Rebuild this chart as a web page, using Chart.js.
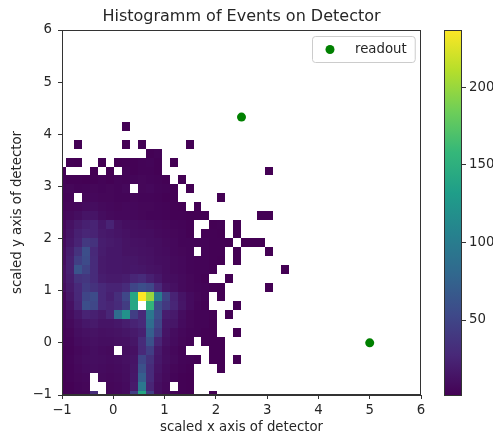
<!DOCTYPE html>
<html>
<head>
<meta charset="utf-8">
<title>Histogramm of Events on Detector</title>
<script src="https://cdn.jsdelivr.net/npm/chart.js@4/dist/chart.umd.min.js"></script>
<style>
  html, body { margin: 0; padding: 0; background: #fff; }
  #wrap { position: relative; width: 493px; height: 437px; overflow: hidden; }
  #histChart { position: absolute; left: 0; top: 0; }
  #barChart { position: absolute; left: 430px; top: 0; }
</style>
</head>
<body>
<div id="wrap">
  <canvas id="histChart" width="493" height="437"></canvas>
  <canvas id="barChart" width="63" height="437"></canvas>
</div>
<script>
const chartTitle = "Histogramm of Events on Detector";
const xLabel = "scaled x axis of detector";
const yLabel = "scaled y axis of detector";
const axisMin = -1, axisMax = 6;

// readout positions
const readoutLabel = "readout";
const readoutX = [2.5, 5];
const readoutY = [4.33, 0];

// 2d histogram bins (data units)
const xBinStart = -1.07, xBinWidth = 0.155;
const yBinStart = -1.09, yBinWidth = 0.172;

// counts per bin, first row is the top one, 29 columns each
const counts = [
  [0,0,0,0,0,0,0,0,2,0,0,0,0,0,0,0,0,0,0,0,0,0,0,0,0,0,0,0,0],
  [0,0,0,0,0,0,0,0,0,0,0,0,0,0,0,0,0,0,0,0,0,0,0,0,0,0,0,0,0],
  [0,0,1,0,0,0,0,0,1,0,2,0,0,0,0,0,1,0,0,0,0,0,0,0,0,0,0,0,0],
  [0,0,0,0,0,0,0,0,0,0,0,2,3,0,0,0,0,0,0,0,0,0,0,0,0,0,0,0,0],
  [0,2,1,0,0,1,0,1,2,2,3,4,2,0,1,0,0,0,0,0,0,0,0,0,0,0,0,0,0],
  [2,0,0,0,1,0,1,0,3,2,3,3,2,0,0,0,0,0,0,0,0,0,0,0,0,0,1,0,0],
  [3,2,2,1,2,3,2,4,3,4,5,4,3,2,0,1,0,0,0,0,0,0,0,0,0,0,0,0,0],
  [4,5,3,4,5,4,5,4,6,0,5,6,4,3,2,0,1,0,0,0,0,0,0,0,0,0,0,0,0],
  [3,4,0,5,6,5,5,4,4,5,4,4,3,2,2,0,0,0,0,0,1,0,0,0,0,0,0,0,0],
  [4,5,6,8,9,7,6,5,6,6,5,5,4,3,2,1,0,1,0,0,0,0,0,0,0,0,0,0,0],
  [5,7,10,14,14,9,7,6,6,6,5,4,4,3,2,2,1,1,1,0,0,0,0,0,0,1,1,0,0],
  [6,12,18,22,24,16,24,13,10,9,8,7,6,5,4,3,2,0,0,1,2,0,1,0,0,0,0,0,0],
  [7,14,22,26,24,18,16,14,12,10,9,9,7,6,5,4,2,0,2,2,1,0,1,0,0,0,0,0,0],
  [8,16,24,40,35,20,18,16,13,12,11,10,9,7,6,4,4,3,3,2,2,1,0,1,1,1,0,0,0],
  [10,20,35,58,28,19,16,16,13,13,12,11,9,8,6,5,4,0,3,2,2,0,1,0,0,0,1,0,0],
  [10,22,45,55,30,18,16,16,15,15,13,12,10,9,7,6,4,3,3,2,1,0,1,0,0,0,0,0,0],
  [12,22,62,48,30,18,16,16,15,16,15,13,12,9,7,6,4,3,3,2,0,0,0,0,0,0,0,0,1],
  [12,20,35,38,30,20,18,18,20,26,30,22,16,10,9,7,5,3,2,0,0,1,0,0,0,0,0,0,0],
  [10,18,28,42,35,28,24,24,30,50,58,52,28,14,11,7,5,4,3,2,1,0,0,0,0,0,1,0,0],
  [5,15,27,50,55,28,22,32,52,140,237,200,100,48,24,14,8,5,3,0,1,0,0,0,0,0,0,0,0],
  [5,12,25,58,52,28,25,30,43,140,0,155,58,40,26,15,8,4,2,0,0,0,1,0,0,0,0,0,0],
  [4,9,16,24,22,18,26,85,120,45,28,95,57,20,18,9,5,3,3,2,0,1,0,0,0,0,0,0,0],
  [4,7,12,16,18,14,14,16,20,24,28,85,50,16,15,8,5,3,3,1,0,0,0,0,0,0,0,0,0],
  [3,5,10,12,13,11,12,13,15,18,22,72,42,14,9,6,4,3,2,1,0,0,1,0,0,0,0,0,0],
  [3,4,8,10,11,10,10,11,12,15,30,60,25,12,8,5,3,0,2,1,1,0,0,0,0,0,0,0,0],
  [2,3,6,8,10,8,7,0,10,12,28,45,18,9,6,3,0,0,0,1,1,0,0,0,0,0,0,0,0],
  [2,4,7,9,10,9,8,9,11,14,50,34,16,10,7,4,3,2,0,1,1,0,1,0,0,0,0,0,0],
  [2,3,6,8,9,8,7,8,10,15,60,30,14,8,5,3,2,0,0,0,1,0,0,0,0,0,0,0,0],
  [1,3,5,6,0,7,6,7,9,16,72,30,12,7,4,2,1,0,0,0,0,0,0,0,0,0,0,0,0],
  [1,2,4,5,0,0,5,6,8,18,95,25,10,6,0,2,1,0,0,0,0,0,0,0,0,0,0,0,0],
  [1,2,3,4,30,0,5,6,8,45,140,45,9,5,3,2,1,0,0,1,0,0,0,0,0,0,0,0,0]
];

// colour scale
const colorMin = 1, colorMax = 237;
const colorTicks = [50, 100, 150, 200];

const FONT = "'DejaVu Sans', sans-serif";
const TEXT = "#262626";
const LINE = "#333";
const tickFont = { family: FONT, size: 13.3 };

const viridis = ["#440154", "#482878", "#3e4989", "#31688e", "#26828e",
                 "#1f9e89", "#35b779", "#6ece58", "#b5de2b", "#fde725"];

function hexRgb(h) {
  return [1, 3, 5].map(k => parseInt(h.slice(k, k + 2), 16));
}

function viridisColor(f) {
  f = Math.min(1, Math.max(0, f));
  const p = f * (viridis.length - 1);
  const k = Math.min(Math.floor(p), viridis.length - 2);
  const t = p - k;
  const a = hexRgb(viridis[k]), b = hexRgb(viridis[k + 1]);
  const c = a.map((v, n) => Math.round(v + (b[n] - v) * t));
  return `rgb(${c[0]},${c[1]},${c[2]})`;
}

const fmtTick = v => (v < 0 ? "\u2212" + Math.abs(v) : String(v));

// === heatmap cells ===
const heatmap = {
  id: "heatmap",
  beforeDatasetsDraw(chart) {
    const { ctx, chartArea: a, scales: { x, y } } = chart;
    const nRows = counts.length;
    ctx.save();
    ctx.beginPath();
    ctx.rect(a.left, a.top, a.right - a.left, a.bottom - a.top);
    ctx.clip();
    counts.forEach((row, r) => {
      const j = nRows - 1 - r;
      const yb = Math.round(y.getPixelForValue(yBinStart + j * yBinWidth));
      const yt = Math.round(y.getPixelForValue(yBinStart + (j + 1) * yBinWidth));
      row.forEach((v, i) => {
        if (!v) return;
        const xl = Math.round(x.getPixelForValue(xBinStart + i * xBinWidth));
        const xr = Math.round(x.getPixelForValue(xBinStart + (i + 1) * xBinWidth));
        ctx.fillStyle = viridisColor((v - colorMin) / (colorMax - colorMin));
        ctx.fillRect(xl, yt, xr - xl, yb - yt);
      });
    });
    ctx.restore();
  }
};

// box around the axes
const frame = {
  id: "frame",
  afterDatasetsDraw(chart) {
    const { ctx, chartArea: a } = chart;
    ctx.save();
    ctx.strokeStyle = LINE;
    ctx.lineWidth = 1;
    ctx.strokeRect(a.left + 0.5, a.top + 0.5, a.right - a.left - 1, a.bottom - a.top - 1);
    ctx.restore();
  }
};

// legend inside the upper right corner
const legendBox = {
  id: "legendBox",
  afterDraw(chart) {
    const { ctx, chartArea: a } = chart;
    const ds = chart.data.datasets[0];
    ctx.save();
    ctx.font = `13.3px ${FONT}`;
    const w = 43 + ctx.measureText(ds.label).width + 8;
    const h = 26;
    const left = Math.round(a.right - 6 - w), top = Math.round(a.top + 6);
    ctx.fillStyle = "rgba(255,255,255,0.8)";
    ctx.strokeStyle = "#cccccc";
    ctx.beginPath();
    ctx.roundRect(left + 0.5, top + 0.5, w, h, 3);
    ctx.fill();
    ctx.stroke();
    ctx.fillStyle = ds.backgroundColor;
    ctx.beginPath();
    ctx.arc(left + 18, top + h / 2 + 0.5, 4.5, 0, Math.PI * 2);
    ctx.fill();
    ctx.fillStyle = TEXT;
    ctx.textBaseline = "middle";
    ctx.fillText(ds.label, left + 43, top + h / 2 + 0.5);
    ctx.restore();
  }
};

new Chart(document.getElementById("histChart"), {
  type: "scatter",
  data: {
    datasets: [{
      label: readoutLabel,
      data: readoutX.map((x, k) => ({ x, y: readoutY[k] })),
      backgroundColor: "green",
      borderColor: "green",
      borderWidth: 0,
      pointRadius: 4.5,
      pointHoverRadius: 4.5
    }]
  },
  options: {
    responsive: false,
    animation: false,
    devicePixelRatio: 1,
    events: [],
    layout: { padding: { left: 0, right: 72, top: 0, bottom: 0 } },
    plugins: {
      legend: { display: false },
      tooltip: { enabled: false },
      title: {
        display: true,
        text: chartTitle,
        fullSize: false,
        color: TEXT,
        font: { family: FONT, size: 16, weight: "normal" },
        padding: { top: 7, bottom: 3.8 }
      }
    },
    scales: {
      x: {
        type: "linear", min: axisMin, max: axisMax,
        ticks: { stepSize: 1, autoSkip: false, maxRotation: 0, font: tickFont, color: TEXT, padding: 4, callback: fmtTick },
        grid: { drawOnChartArea: false, tickLength: 4, color: LINE },
        border: { color: LINE },
        title: { display: true, text: xLabel, color: TEXT, font: tickFont, padding: { top: 0, bottom: 1 } },
        afterFit(s) { s.height = 42; }
      },
      y: {
        type: "linear", min: axisMin, max: axisMax,
        ticks: { stepSize: 1, autoSkip: false, font: tickFont, color: TEXT, padding: 6, callback: fmtTick },
        grid: { drawOnChartArea: false, tickLength: 4, color: LINE },
        border: { color: LINE },
        title: { display: true, text: yLabel, color: TEXT, font: tickFont, padding: { top: 10, bottom: 0 } },
        afterFit(s) { s.width = 62; }
      }
    }
  },
  plugins: [heatmap, frame, legendBox]
});

// === colorbar ===
const colorbar = {
  id: "colorbar",
  beforeDatasetsDraw(chart) {
    const { ctx, chartArea: a } = chart;
    const g = ctx.createLinearGradient(0, a.bottom, 0, a.top);
    viridis.forEach((c, k) => g.addColorStop(k / (viridis.length - 1), c));
    ctx.save();
    ctx.fillStyle = g;
    ctx.fillRect(a.left, a.top, a.right - a.left, a.bottom - a.top);
    ctx.strokeStyle = LINE;
    ctx.strokeRect(a.left + 0.5, a.top + 0.5, a.right - a.left - 1, a.bottom - a.top - 1);
    ctx.restore();
  }
};

new Chart(document.getElementById("barChart"), {
  type: "scatter",
  data: { datasets: [] },
  options: {
    responsive: false,
    animation: false,
    devicePixelRatio: 1,
    events: [],
    layout: { padding: { left: 14, right: 0, top: 30, bottom: 41 } },
    plugins: { legend: { display: false }, tooltip: { enabled: false } },
    scales: {
      x: { display: false, min: 0, max: 1 },
      y: {
        position: "right", min: colorMin, max: colorMax,
        afterBuildTicks(s) { s.ticks = colorTicks.map(v => ({ value: v })); },
        afterFit(s) { s.width = 31; },
        ticks: { font: tickFont, color: TEXT, padding: 3 },
        grid: { drawOnChartArea: false, tickLength: 4, color: LINE },
        border: { display: false }
      }
    }
  },
  plugins: [colorbar]
});
</script>
</body>
</html>
